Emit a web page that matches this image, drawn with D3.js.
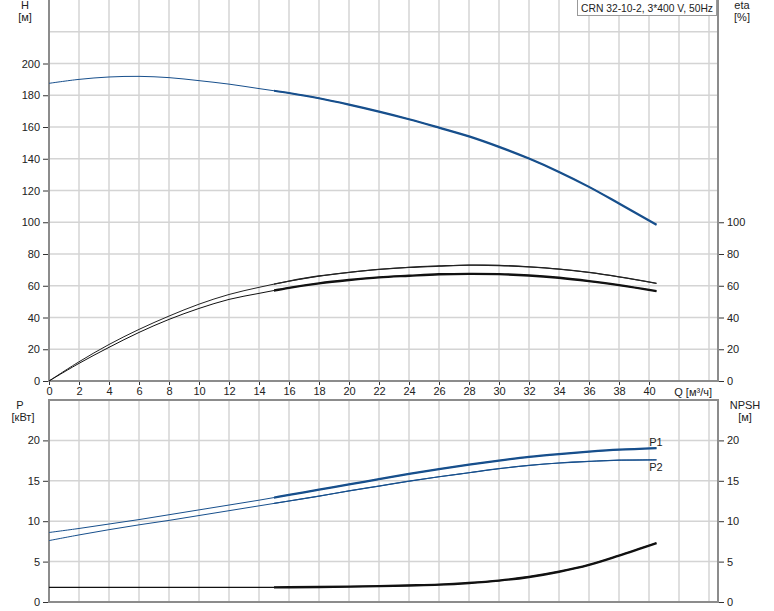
<!DOCTYPE html>
<html><head><meta charset="utf-8">
<script src="https://cdn.jsdelivr.net/npm/d3@7"></script>
<style>
body{margin:0;background:#fff;}
svg text{font-family:"Liberation Sans",Arial,sans-serif;font-size:11px;fill:#222;}
</style></head>
<body><svg id="c" width="774" height="611"></svg>
<script>
const qValues = [0,2,4,6,8,10,12,14,16,18,20,22,24,26,28,30,32,34,36,38,40.5];
const headValues = [187.5,190,191.5,191.9,191.1,189.2,187,184.2,181.4,178.1,174.1,169.7,164.9,159.6,154.1,147.5,140.1,131.7,122.3,111.8,98.4];
const etaUpper = [0,12.1,23,32.5,40.9,48.4,54.5,59.0,62.9,66.1,68.4,70.3,71.6,72.4,73.0,72.8,71.9,70.5,68.4,65.6,61.5];
const etaLower = [0,11.1,21.2,30.6,38.8,45.7,51.4,55.2,58.7,61.5,63.6,65.3,66.3,67.2,67.5,67.3,66.5,65.0,62.9,60.4,56.6];
const p1Values = [8.6,9.1,9.65,10.2,10.8,11.4,12.0,12.6,13.25,13.9,14.55,15.2,15.85,16.45,17.0,17.5,17.95,18.3,18.6,18.85,19.05];
const p2Values = [7.6,8.3,8.95,9.55,10.1,10.7,11.3,11.9,12.5,13.1,13.75,14.35,14.95,15.5,16.0,16.5,16.9,17.2,17.4,17.55,17.6];
const npshValues = [1.8,1.8,1.8,1.8,1.8,1.8,1.8,1.8,1.82,1.85,1.9,1.97,2.05,2.15,2.35,2.65,3.1,3.75,4.6,5.75,7.3];
const qTicks = [0,2,4,6,8,10,12,14,16,18,20,22,24,26,28,30,32,34,36,38,40];
const hTicks = [0,20,40,60,80,100,120,140,160,180,200];
const etaTicks = [0,20,40,60,80,100];
const pTicks = [0,5,10,15,20];
const npshTicks = [0,5,10,15,20];
const title = "CRN 32-10-2, 3*400 V, 50Hz";
const opStart = 15;

const svg = d3.select("#c");
const BLUE = "#174f8c";
const GRID = "#d4d4d4";
const AXIS = "#8c8c8c";

const x = d3.scaleLinear().domain([0,44.6]).range([49,718]);
const yH = d3.scaleLinear().domain([0,240]).range([381,0]);
const yP = d3.scaleLinear().domain([0,25]).range([602,400]);

// grids
const gridX = d3.range(2,45,2);
function vgrid(y0,y1){
  svg.append("g").selectAll("line").data(gridX).join("line")
    .attr("x1",d=>x(d)).attr("x2",d=>x(d)).attr("y1",y0).attr("y2",y1)
    .attr("stroke",GRID).attr("stroke-width",1.5);
}
vgrid(0,381); vgrid(400,602);
svg.append("g").selectAll("line").data(d3.range(20,221,20)).join("line")
  .attr("x1",49).attr("x2",718).attr("y1",d=>yH(d)).attr("y2",d=>yH(d))
  .attr("stroke",GRID).attr("stroke-width",1.5);
svg.append("g").selectAll("line").data([5,10,15,20]).join("line")
  .attr("x1",49).attr("x2",718).attr("y1",d=>yP(d)).attr("y2",d=>yP(d))
  .attr("stroke",GRID).attr("stroke-width",1.5);

// frames
function frameLine(x1,y1,x2,y2){svg.append("line").attr("x1",x1).attr("y1",y1).attr("x2",x2).attr("y2",y2).attr("stroke",AXIS).attr("stroke-width",2);}
frameLine(49,0,49,382); frameLine(48,381,719,381); frameLine(718,0,718,382);
frameLine(49,400,49,603); frameLine(48,400,719,400); frameLine(48,602,719,602); frameLine(718,400,718,603);

// axes
function styleAxis(g){
  g.select(".domain").remove();
  g.selectAll(".tick line").attr("stroke","#333");
  g.selectAll(".tick text").style("font-size","11px").attr("fill","#222");
}
svg.append("g").attr("transform","translate(48,0)")
  .call(d3.axisLeft(yH).tickValues(hTicks).tickSize(5).tickPadding(3)).call(styleAxis);
svg.append("g").attr("transform","translate(719,0)")
  .call(d3.axisRight(yH).tickValues(etaTicks).tickSize(5).tickPadding(3)).call(styleAxis);
svg.append("g").attr("transform","translate(0,382)")
  .call(d3.axisBottom(x).tickValues(qTicks).tickSize(3).tickPadding(2)).call(styleAxis);
svg.append("g").attr("transform","translate(48,0)")
  .call(d3.axisLeft(yP).tickValues(pTicks).tickSize(5).tickPadding(3)).call(styleAxis);
svg.append("g").attr("transform","translate(719,0)")
  .call(d3.axisRight(yP).tickValues(npshTicks).tickSize(5).tickPadding(3)).call(styleAxis);

// labels
function label(t,xx,yy,anchor,fill){return svg.append("text").attr("x",xx).attr("y",yy).attr("text-anchor",anchor||"middle").attr("fill",fill||"#222").text(t);}
label("H",25,9); label("[м]",25,21);
label("eta",742,9); label("[%]",742,21);
label("Q [м³/ч]",712,396,"end");
label("P",20,409); label("[кВт]",23,421);
label("NPSH",745,409); label("[м]",745,421);

// title box
svg.append("rect").attr("x",577.5).attr("y",-0.5).attr("width",139).attr("height",16)
  .attr("fill","#fff").attr("stroke","#999").attr("stroke-width",1);
label(title,581,12,"start","#111").attr("textLength",132).attr("lengthAdjust","spacingAndGlyphs");

// clip for operating range
const defs = svg.append("defs");
defs.append("clipPath").attr("id","op").append("rect")
  .attr("x",x(opStart)).attr("y",0).attr("width",718-x(opStart)).attr("height",611);

function curve(vals,yScale,color,thin,thick){
  const data = qValues.map((q,i)=>[q,vals[i]]);
  const line = d3.line().x(d=>x(d[0])).y(d=>yScale(d[1])).curve(d3.curveCatmullRom.alpha(0.5));
  svg.append("path").datum(data).attr("d",line).attr("fill","none").attr("stroke",color).attr("stroke-width",thin);
  svg.append("path").datum(data).attr("d",line).attr("fill","none").attr("stroke",color).attr("stroke-width",thick).attr("clip-path","url(#op)");
}
curve(headValues,yH,BLUE,1,2.2);
curve(etaUpper,yH,"#222",1,1.4);
curve(etaLower,yH,"#111",1,2.4);
curve(p1Values,yP,BLUE,1,2.2);
curve(p2Values,yP,BLUE,1,1.2);
curve(npshValues,yP,"#111",1.2,2.4);

label("P1",656,446,"middle",BLUE);
label("P2",656,471,"middle",BLUE);
</script></body></html>
